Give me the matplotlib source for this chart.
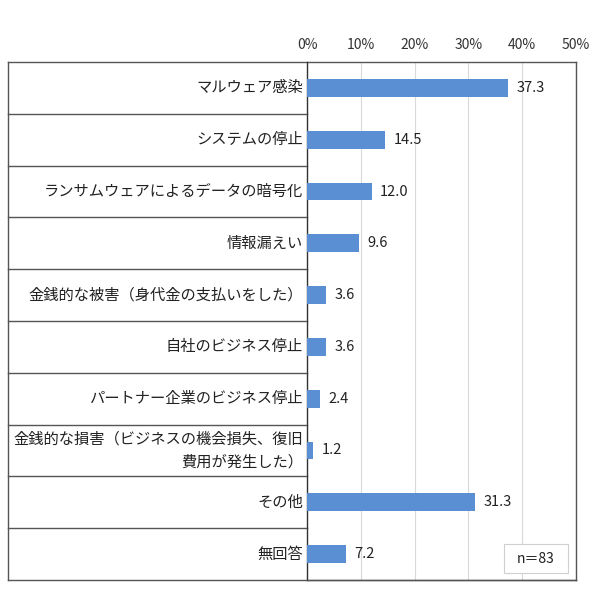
import matplotlib.pyplot as plt
import matplotlib.transforms as mtransforms
from matplotlib.patches import Rectangle

plt.rcParams['font.family'] = ['Noto Sans CJK JP', 'DejaVu Sans']

# data
categories = [
    "マルウェア感染",
    "システムの停止",
    "ランサムウェアによるデータの暗号化",
    "情報漏えい",
    "金銭的な被害（身代金の支払いをした）",
    "自社のビジネス停止",
    "パートナー企業のビジネス停止",
    "金銭的な損害（ビジネスの機会損失、復旧\n費用が発生した）",
    "その他",
    "無回答",
]
values = [37.3, 14.5, 12.0, 9.6, 3.6, 3.6, 2.4, 1.2, 31.3, 7.2]
xticks = [0, 10, 20, 30, 40, 50]
sample_note = "n＝83"

W, H = 590, 594
fig = plt.figure(figsize=(W / 100, H / 100), dpi=100)
ax_left, ax_right, ax_top, ax_bottom = 307, 576, 62, 580
ax = fig.add_axes([ax_left / W, 1 - ax_bottom / H,
                   (ax_right - ax_left) / W, (ax_bottom - ax_top) / H])

n = len(categories)
ypos = list(range(n))
ax.barh(ypos, values, height=0.34, color="#5B8FD4", zorder=3)
ax.set_ylim(n - 0.5, -0.5)
ax.set_xlim(0, 50)

ax.set_xticks(xticks)
ax.set_xticklabels([f"{t}%" for t in xticks], fontsize=10, color="#333333")
ax.xaxis.tick_top()
ax.tick_params(axis="x", length=0, pad=7)
ax.set_yticks([])
ax.grid(axis="x", color="#D9D9D9", linewidth=0.8, zorder=0)

for s in ax.spines.values():
    s.set_color("#555555")
    s.set_linewidth(1.0)
ax.spines["top"].set_visible(False)
ax.spines["left"].set_color("#333333")

for y, v in zip(ypos, values):
    ax.text(v + 1.6, y, f"{v:.1f}", va="center", ha="left", fontsize=10.5, color="#222222")

tr = mtransforms.blended_transform_factory(ax.transAxes, ax.transData)

# category labels in the table column
for y, c in zip(ypos, categories):
    ax.text(-0.015, y, c, transform=tr, ha="right", va="center",
            fontsize=11, color="#222222", linespacing=1.4)

# table borders
left_x = (8 - ax_left) / (ax_right - ax_left)
for k in range(1, n):
    ax.plot([left_x, 0], [k - 0.5, k - 0.5], transform=tr, color="#555555", lw=1.0, clip_on=False)
ax.plot([left_x, 1], [-0.5, -0.5], transform=tr, color="#555555", lw=1.0, clip_on=False)
ax.plot([left_x, 1], [n - 0.5, n - 0.5], transform=tr, color="#555555", lw=1.0, clip_on=False)
ax.plot([left_x, left_x], [-0.5, n - 0.5], transform=tr, color="#555555", lw=1.0, clip_on=False)

# sample size box
ax.add_patch(Rectangle((0.734, 0.0135), 0.235, 0.056, transform=ax.transAxes,
                       fc="white", ec="#D0D0D0", lw=0.8, zorder=5))
ax.text(0.851, 0.0415, sample_note, transform=ax.transAxes, ha="center", va="center",
        fontsize=10, color="#222222", zorder=6)

fig.savefig("out.png", dpi=100)
